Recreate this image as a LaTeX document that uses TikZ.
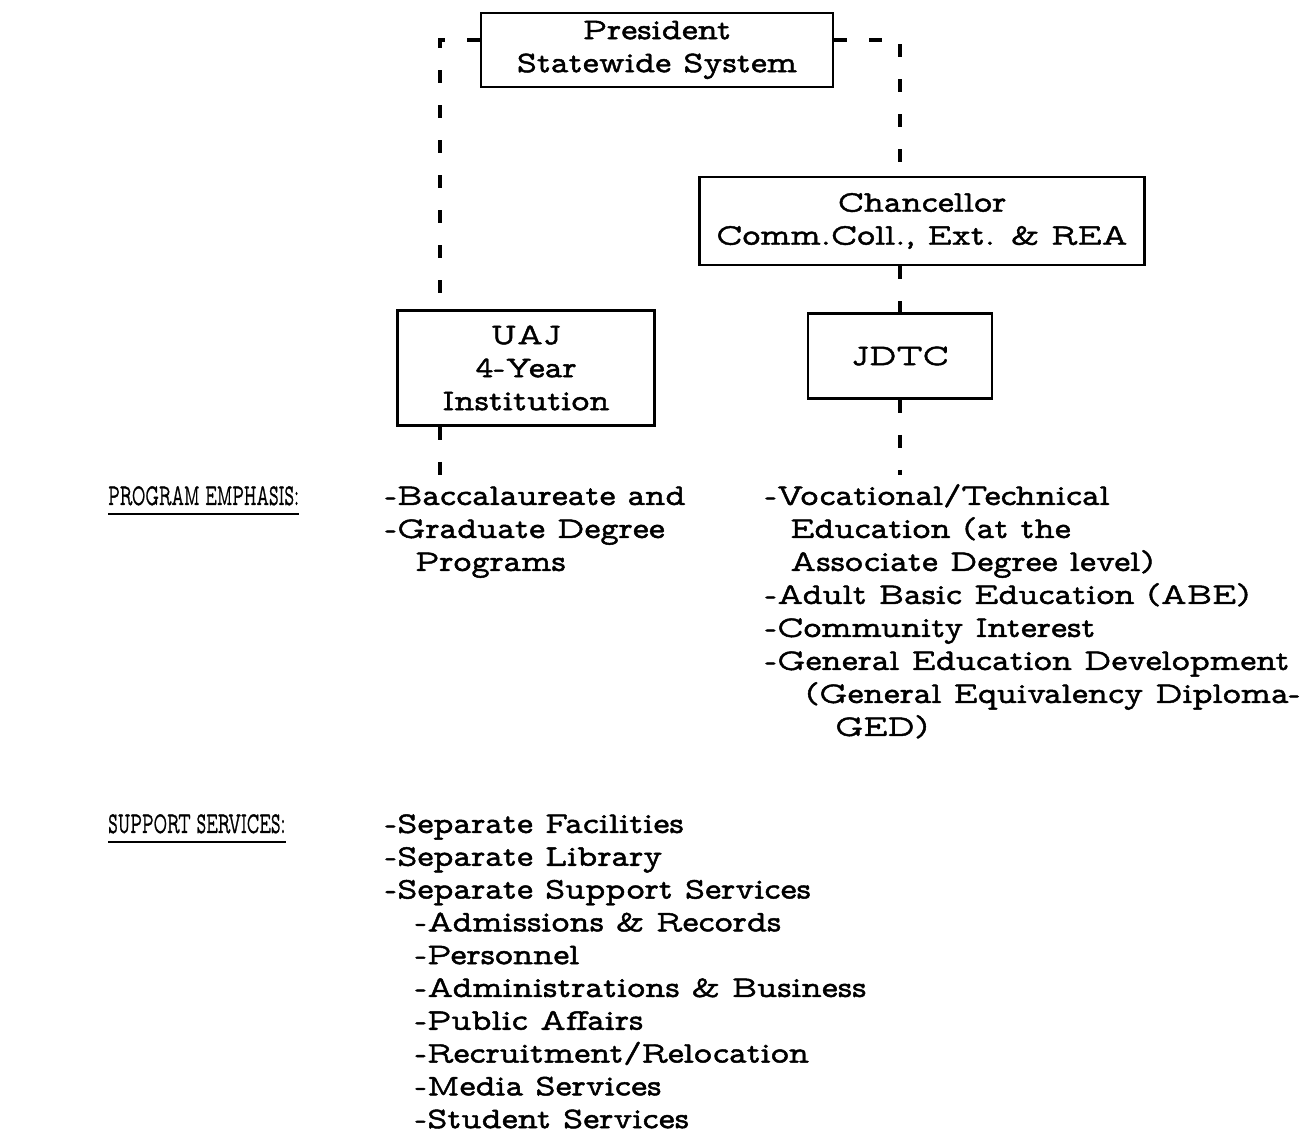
\documentclass[tikz,border=0pt]{standalone}
\usepackage{fontspec}
\setmainfont{Latin Modern Mono Prop}[FakeBold=1.5,FakeStretch=1.15]

\begin{document}
\begin{tikzpicture}[x=1pt,y=1pt,
  box/.style={draw=black,line width=2.8pt,inner sep=0pt,align=center,font=\ftype},
  link/.style={draw=black,line width=3.2pt,dash pattern=on 13pt off 22pt},
  item/.style={anchor=base west,inner sep=0pt,font=\ftype},
  rule/.style={draw=black,line width=2pt}]
\providecommand{\ftype}{\fontsize{30}{33}\selectfont}
\providecommand{\caps}[1]{\scalebox{0.48}[1]{#1}}
\useasboundingbox (0,0) rectangle (1311,1137);
% offices
\node[box,minimum width=352,minimum height=74] (pres) at (657,1087) {President\\Statewide System};
\node[box,minimum width=445,minimum height=88] (chanc) at (922,916) {Chancellor\\Comm.Coll., Ext. \& REA};
\node[box,minimum width=257,minimum height=115] (uaj) at (526,769) {UAJ\\4-Year\\Institution};
\node[box,minimum width=184,minimum height=85] (jdtc) at (900,781) {JDTC};
% dashed lines of authority
\coordinate (ltrunk) at (440,1097);
\coordinate (rtrunk) at (900,1097);
\coordinate (lend) at (440,659);
\coordinate (rend) at (900,662);
\draw[link] (pres.west |- ltrunk) -- (ltrunk) -- (uaj.north -| ltrunk);
\draw[link] (pres.east |- rtrunk) -- (rtrunk) -- (chanc.north -| rtrunk);
\draw[link] (chanc.south -| rtrunk) -- (jdtc.north -| rtrunk);
\draw[link] (uaj.south -| lend) -- (lend);
\draw[link] (jdtc.south -| rend) -- (rend);
% program emphasis
\node[item] (pehead) at (108,632) {\caps{PROGRAM EMPHASIS:}};
\draw[rule] ([yshift=-9]pehead.base west) -- ([yshift=-9]pehead.base east);
\node[item] (bacc) at (385,632) {-Baccalaureate and};
\node[item] (grad) at (385,599) {-Graduate Degree};
\node[item] (prog) at (415,566) {Programs};
\node[item] (voc) at (765,632) {-Vocational/Technical};
\node[item] (voca) at (790,599) {Education (at the};
\node[item] (vocb) at (790,566) {Associate Degree level)};
\node[item] (abe) at (765,533) {-Adult Basic Education (ABE)};
\node[item] (comm) at (765,500) {-Community Interest};
\node[item] (ged) at (765,467) {-General Education Development};
\node[item] (geda) at (805,434) {(General Equivalency Diploma-};
\node[item] (gedb) at (835,401) {GED)};
% support services
\node[item] (sshead) at (108,304) {\caps{SUPPORT SERVICES:}};
\draw[rule] ([yshift=-9]sshead.base west) -- ([yshift=-9]sshead.base east);
\node[item] (fac) at (385,304) {-Separate Facilities};
\node[item] (lib) at (385,271.2) {-Separate Library};
\node[item] (sup) at (385,238.4) {-Separate Support Services};
\node[item] (adm) at (415,205.6) {-Admissions \& Records};
\node[item] (pers) at (415,172.8) {-Personnel};
\node[item] (admb) at (415,140) {-Administrations \& Business};
\node[item] (pub) at (415,107.2) {-Public Affairs};
\node[item] (recr) at (415,74.4) {-Recruitment/Relocation};
\node[item] (media) at (415,41.6) {-Media Services};
\node[item] (stud) at (415,8.8) {-Student Services};
\end{tikzpicture}
\end{document}
